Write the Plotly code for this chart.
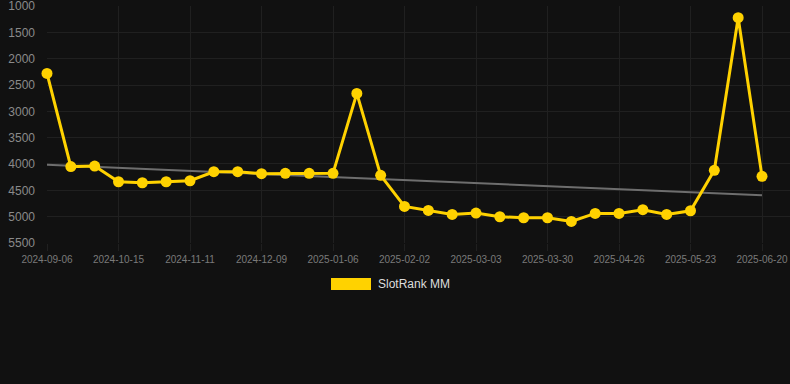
import numpy as np
import plotly.graph_objects as go

# Data (rank, lower is better)
rank_values = [2280, 4050, 4040, 4337, 4356, 4337, 4318, 4147, 4147, 4185,
               4178, 4178, 4178, 2659, 4216, 4805, 4881, 4957, 4932, 5002,
               5021, 5021, 5090, 4938, 4938, 4868, 4957, 4888, 4120, 1222,
               4235]
tick_labels = ["2024-09-06", "2024-10-15", "2024-11-11", "2024-12-09",
               "2025-01-06", "2025-02-02", "2025-03-03", "2025-03-30",
               "2025-04-26", "2025-05-23", "2025-06-20"]
y_ticks = [1000, 1500, 2000, 2500, 3000, 3500, 4000, 4500, 5000, 5500]
series_name = "SlotRank MM"

x_idx = np.arange(len(rank_values))
coef = np.polyfit(x_idx, rank_values, 1)
trend = np.polyval(coef, x_idx)

GOLD = "#FFD200"
BG = "#111111"
GRID = "#202020"

fig = go.Figure()
fig.add_trace(go.Scatter(
    x=x_idx, y=trend, mode="lines",
    line=dict(color="#6e6e6e", width=2),
    hoverinfo="skip", showlegend=False))
fig.add_trace(go.Scatter(
    x=x_idx, y=rank_values, mode="lines+markers", name=series_name,
    line=dict(color=GOLD, width=3),
    marker=dict(color=GOLD, size=11),
    cliponaxis=False,
    showlegend=False))

# custom legend (wide colour box + label)
fig.add_shape(type="rect", xref="paper", yref="paper",
              x0=(331 - 47) / 743, x1=(371 - 47) / 743,
              y0=(243 - 290) / 237, y1=(243 - 278) / 237,
              fillcolor=GOLD, line=dict(width=0))
fig.add_annotation(xref="paper", yref="paper",
                   x=(376 - 47) / 743, y=(243 - 284) / 237,
                   text=series_name, showarrow=False,
                   xanchor="left", yanchor="middle",
                   font=dict(color="#dddddd", size=12,
                             family="Liberation Sans, Arial, sans-serif"))

fig.update_layout(
    width=790, height=384,
    paper_bgcolor=BG, plot_bgcolor=BG,
    margin=dict(l=47, r=0, t=6, b=141),
    font=dict(family="Liberation Sans, Arial, sans-serif"),
    xaxis=dict(
        range=[0, 743 / (715 / 30)],
        tickmode="array",
        tickvals=list(range(0, len(rank_values), 3)),
        ticktext=tick_labels,
        showgrid=True, gridcolor=GRID, gridwidth=1,
        zeroline=False, showline=False,
        ticks="outside", ticklen=7, tickcolor=GRID,
        tickfont=dict(color="#7a7a7a", size=10),
    ),
    yaxis=dict(
        range=[5500.5, 999.5],
        tickmode="array", tickvals=y_ticks,
        showgrid=True, gridcolor=GRID, gridwidth=1,
        zeroline=False, showline=False,
        ticks="", ticklabelstandoff=11,
        ticklabeloverflow="allow",
        tickfont=dict(color="#8a8a8a", size=12),
    ),
)

fig.write_html(
    "out.html",
    config={"displayModeBar": False},
    post_script="document.body.style.margin='0';"
                "document.body.style.background='#111111';",
)
